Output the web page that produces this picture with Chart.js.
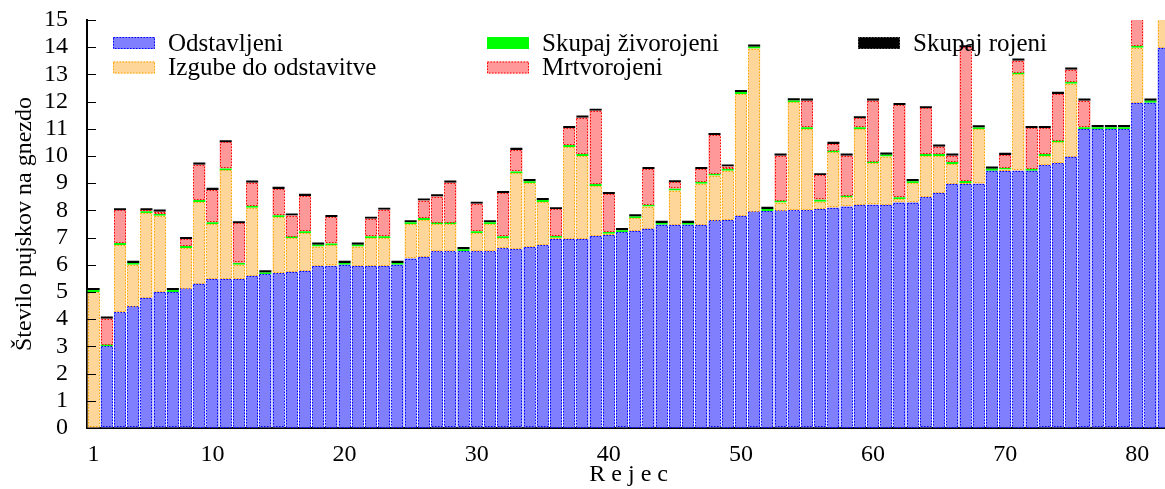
<!DOCTYPE html>
<html>
<head>
<meta charset="utf-8">
<script src="https://cdn.jsdelivr.net/npm/chart.js@4.4.1/dist/chart.umd.min.js"></script>
<style>
  html, body { margin: 0; padding: 0; background: #fff; overflow: hidden; }
  #wrap { width: 1165px; height: 489px; overflow: hidden; }
</style>
</head>
<body>
<div id="wrap"><canvas id="chart" width="1172" height="489"></canvas></div>
<script>
// rejci 1..82
const farms = Array.from({ length: 82 }, (_, i) => String(i + 1));
const xTickLabels = ["1", "10", "20", "30", "40", "50", "60", "70", "80"];

// odstavljeni (top of blue)
const weaned = [
  0, 3.0, 4.25, 4.47, 4.79, 5.0, 5.0, 5.13, 5.31, 5.48,
  5.48, 5.48, 5.6, 5.65, 5.69, 5.74, 5.78, 5.96, 5.96, 6.0,
  5.96, 5.96, 5.96, 6.0, 6.23, 6.3, 6.49, 6.49, 6.5, 6.49,
  6.49, 6.6, 6.57, 6.65, 6.72, 6.95, 6.95, 6.95, 7.06, 7.1,
  7.2, 7.25, 7.33, 7.47, 7.47, 7.47, 7.47, 7.63, 7.65, 7.8,
  7.96, 7.98, 8.0, 8.0, 8.0, 8.05, 8.1, 8.14, 8.21, 8.21,
  8.21, 8.29, 8.29, 8.48, 8.65, 8.98, 8.98, 8.98, 9.46, 9.46,
  9.46, 9.46, 9.66, 9.73, 9.98, 10.99, 10.99, 10.99, 10.99, 11.96,
  11.96, 13.98
];
// skupaj zivorojeni (top of orange)
const bornAlive = [
  5.0, 3.0, 6.73, 6.0, 7.9, 7.8, 5.0, 6.62, 8.31, 7.49,
  9.47, 6.0, 8.1, 5.65, 7.75, 6.98, 7.16, 6.67, 6.71, 6.0,
  6.67, 6.98, 6.98, 6.0, 7.49, 7.65, 7.49, 7.49, 6.5, 7.16,
  7.49, 6.98, 9.36, 9.0, 8.31, 6.99, 10.33, 10.0, 8.9, 7.14,
  7.2, 7.71, 8.14, 7.47, 8.73, 7.47, 8.98, 9.28, 9.46, 12.28,
  13.95, 7.98, 8.29, 11.97, 10.99, 8.32, 10.13, 8.48, 10.99, 9.73,
  9.98, 8.41, 9.0, 10.0, 10.0, 9.71, 9.01, 10.98, 9.46, 9.5,
  13.0, 9.46, 10.0, 10.5, 12.66, 10.99, 10.99, 10.99, 10.99, 13.98,
  11.96, 15.6
];
// skupaj rojeni (top of red)
const bornTotal = [
  5.0, 4.02, 8.0, 6.0, 8.0, 7.95, 5.0, 6.94, 9.68, 8.75,
  10.5, 7.52, 9.02, 5.65, 8.79, 7.81, 8.53, 6.67, 7.75, 6.0,
  6.67, 7.69, 8.02, 6.0, 7.49, 8.36, 8.51, 9.02, 6.5, 8.24,
  7.49, 8.63, 10.22, 9.0, 8.31, 8.04, 11.02, 11.41, 11.66, 8.6,
  7.2, 7.71, 9.52, 7.47, 9.03, 7.47, 9.52, 10.77, 9.61, 12.28,
  13.95, 7.98, 10.01, 11.97, 12.03, 9.29, 10.44, 10.01, 11.38, 12.03,
  9.98, 11.87, 9.0, 11.75, 10.34, 10.01, 13.99, 10.98, 9.46, 10.04,
  13.5, 11.02, 11.02, 12.28, 13.17, 12.03, 10.99, 10.99, 10.99, 15.4,
  11.96, 15.6
];

const markGreen = 0.07;
const markBlack = 0.08;

const legendItems = [
  { label: "Odstavljeni", fill: "#8080ff", dash: "#0000ff", col: 0, row: 0 },
  { label: "Izgube do odstavitve", fill: "#ffd699", dash: "#ffa500", col: 0, row: 1 },
  { label: "Skupaj živorojeni", fill: "#00ff00", dash: null, col: 1, row: 0 },
  { label: "Mrtvorojeni", fill: "#ff9999", dash: "#ff0000", col: 1, row: 1 },
  { label: "Skupaj rojeni", fill: "#000000", dash: "#555555", col: 2, row: 0 },
];

const FONT = "'Liberation Serif', 'Times New Roman', serif";

const blueBars = weaned.map((w) => [0, w]);
const orangeBars = weaned.map((w, i) => [w, bornAlive[i]]);
const greenBars = bornAlive.map((a) => [a, a + markGreen]);
const redBars = bornAlive.map((a, i) => [a + markGreen, Math.max(bornTotal[i], a + markGreen)]);
const blackBars = bornAlive.map((a, i) => {
  const top = Math.max(bornTotal[i], a + markGreen);
  return [top, top + markBlack];
});

// dotted outline round each bar, like the gnuplot original
const dottedBorders = {
  id: "dottedBorders",
  afterDatasetsDraw(chart) {
    const ctx = chart.ctx;
    const area = chart.chartArea;
    ctx.save();
    ctx.beginPath();
    ctx.rect(area.left, area.top, area.right - area.left, area.bottom - area.top);
    ctx.clip();
    ctx.lineWidth = 1;
    ctx.setLineDash([1.5, 1.5]);
    chart.data.datasets.forEach((ds, di) => {
      if (!ds.dashColor) return;
      const meta = chart.getDatasetMeta(di);
      ctx.strokeStyle = ds.dashColor;
      meta.data.forEach((bar) => {
        const p = bar.getProps(["x", "y", "base", "width"], true);
        const h = Math.abs(p.base - p.y);
        if (h < 0.5) return;
        const top = Math.min(p.base, p.y);
        ctx.strokeRect(Math.round(p.x - p.width / 2) + 0.5, Math.round(top) + 0.5,
          Math.round(p.width) - 1, Math.round(h) - 1);
      });
    });
    ctx.restore();
  }
};

// short inward ticks on the left axis + legend
const extras = {
  id: "extras",
  afterDraw(chart) {
    const ctx = chart.ctx;
    const y = chart.scales.y;
    const left = chart.chartArea.left;
    ctx.save();
    ctx.strokeStyle = "#000";
    ctx.lineWidth = 1;
    y.ticks.forEach((t) => {
      const py = Math.round(y.getPixelForValue(t.value)) + 0.5;
      ctx.beginPath();
      ctx.moveTo(left, py);
      ctx.lineTo(left + 9, py);
      ctx.stroke();
    });

    const colX = [113, 487, 858];
    const rowY = [43, 67.5];
    ctx.font = "25px " + FONT;
    ctx.textBaseline = "middle";
    ctx.textAlign = "left";
    legendItems.forEach((it) => {
      const x = colX[it.col];
      const yc = rowY[it.row];
      ctx.fillStyle = it.fill;
      ctx.fillRect(x, yc - 6, 42, 12);
      if (it.dash) {
        ctx.setLineDash([1.5, 1.5]);
        ctx.strokeStyle = it.dash;
        ctx.strokeRect(x + 0.5, yc - 5.5, 41, 11);
        ctx.setLineDash([]);
      }
      ctx.fillStyle = "#000";
      ctx.fillText(it.label, x + 55, yc + 1);
    });
    ctx.restore();
  }
};

const bar = (label, data, fill, dashColor) => ({
  label, data, backgroundColor: fill, dashColor,
  borderWidth: 0, barPercentage: 0.91, categoryPercentage: 1.0,
});

new Chart(document.getElementById("chart"), {
  type: "bar",
  data: {
    labels: farms,
    datasets: [
      bar("Odstavljeni", blueBars, "#8080ff", "#0000ff"),
      bar("Izgube do odstavitve", orangeBars, "#ffd699", "#ffa500"),
      bar("Skupaj živorojeni", greenBars, "#00ff00", null),
      bar("Mrtvorojeni", redBars, "#ff9999", "#ff0000"),
      bar("Skupaj rojeni", blackBars, "#000000", null),
    ],
  },
  options: {
    responsive: false,
    animation: false,
    devicePixelRatio: 1,
    layout: { padding: { left: 0, top: 20, right: 1.7, bottom: 0 } },
    plugins: { legend: { display: false }, tooltip: { enabled: false } },
    scales: {
      x: {
        stacked: true,
        offset: true,
        grid: { display: true, drawOnChartArea: false, drawTicks: false },
        border: { display: true, color: "#000", width: 2 },
        ticks: {
          autoSkip: false,
          maxRotation: 0,
          padding: 12,
          color: "#000",
          font: { family: FONT, size: 24 },
          callback: function (val) {
            const l = this.getLabelForValue(val);
            return xTickLabels.includes(l) ? l : "";
          },
        },
        title: {
          display: true,
          text: "R e j e c",
          color: "#000",
          font: { family: FONT, size: 24 },
          padding: { top: 0, bottom: 0 },
        },
        afterFit(scale) {
          scale.height = 61;
          scale.paddingLeft = 0;
          scale.paddingRight = 0;
        },
      },
      y: {
        stacked: false,
        min: 0,
        max: 15,
        grid: { display: true, drawOnChartArea: false, drawTicks: false },
        border: { display: true, color: "#000", width: 2 },
        ticks: {
          stepSize: 1,
          autoSkip: false,
          padding: 19,
          color: "#000",
          font: { family: FONT, size: 24 },
        },
        title: {
          display: true,
          text: "Število pujskov na gnezdo",
          color: "#000",
          font: { family: FONT, size: 24 },
          padding: { top: 10, bottom: 0 },
        },
        afterFit(scale) {
          scale.width = 87;
          scale.paddingTop = 0;
          scale.paddingBottom = 0;
        },
      },
    },
  },
  plugins: [dottedBorders, extras],
});
</script>
</body>
</html>
